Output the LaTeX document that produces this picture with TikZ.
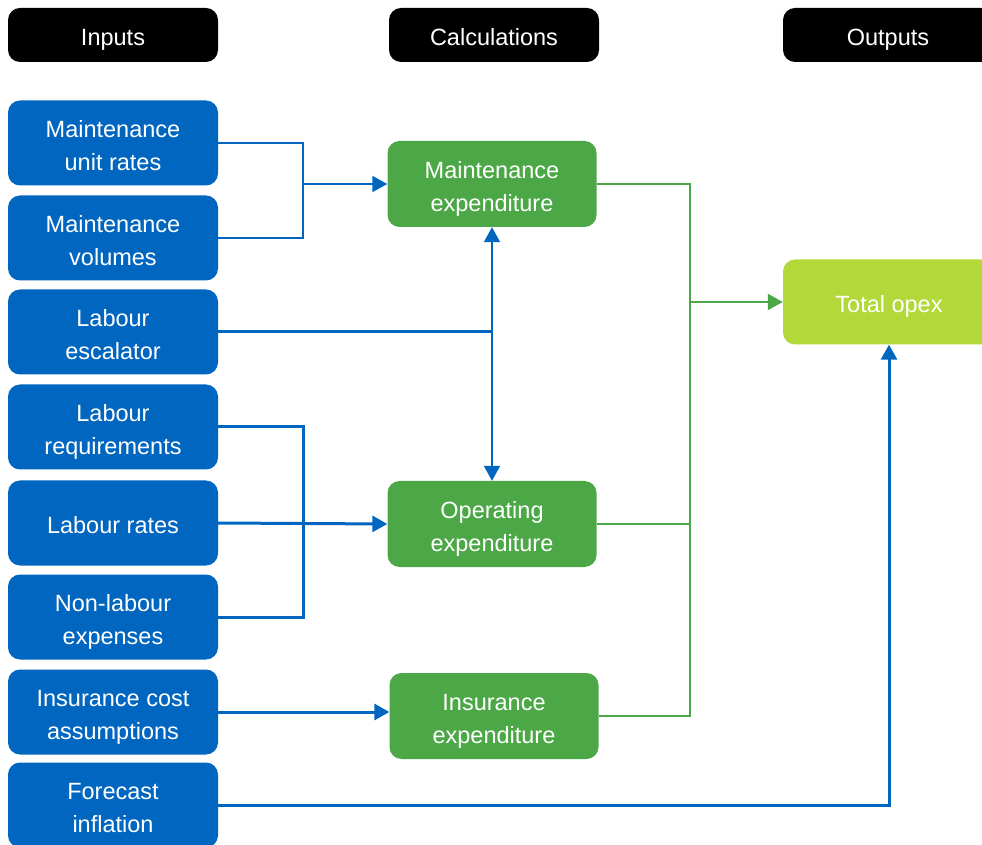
\documentclass[tikz,border=0pt]{standalone}
\usepackage{fontspec}
\setmainfont{Liberation Sans}
\usetikzlibrary{arrows.meta}
\definecolor{inblue}{RGB}{0,102,192}
\definecolor{calcgreen}{RGB}{76,168,70}
\definecolor{outlime}{RGB}{179,216,58}
\newcommand{\lift}{\rule{0pt}{28pt}}
\tikzset{
  box/.style={rounded corners=12pt,text=white,align=center,
    font=\fontsize{23.5}{33}\selectfont,inner sep=0pt,
    execute at end node={\rule[-6pt]{0pt}{6pt}}},
  head/.style={box,fill=black,minimum width=210pt,minimum height=54pt},
  input/.style={box,fill=inblue,minimum width=210pt,minimum height=85pt},
  calc/.style={box,fill=calcgreen,minimum width=209pt,minimum height=86pt},
  output/.style={box,fill=outlime,minimum width=212pt,minimum height=85pt},
  tip/.style={-{Triangle[length=15pt,width=16pt]}},
  blueline/.style={draw=inblue,line width=2pt},
  bluethick/.style={draw=inblue,line width=3pt},
  greenline/.style={draw=calcgreen,line width=2pt}
}
\begin{document}
\begin{tikzpicture}[x=1pt,y=1pt]
  \useasboundingbox (0,0) rectangle (982,844);
  \def\top{844}
  % headers
  \node[head] (hin) at (113,\top-35) {\lift Inputs};
  \node[head] (hcalc) at (494,\top-35) {\lift Calculations};
  \node[head] (hout) at (888,\top-35) {\lift Outputs};
  % inputs
  \node[input] (mur) at (113,\top-143) {\lift Maintenance\\unit rates};
  \node[input] (mv) at (113,\top-238) {\lift Maintenance\\volumes};
  \node[input] (le) at (113,\top-332) {\lift Labour\\escalator};
  \node[input] (lreq) at (113,\top-427) {\lift Labour\\requirements};
  \node[input] (lrat) at (113,\top-523) {\lift Labour rates};
  \node[input] (nle) at (113,\top-617) {\lift Non-labour\\expenses};
  \node[input] (ica) at (113,\top-712) {\lift Insurance cost\\assumptions};
  \node[input] (fi) at (113,\top-805) {\lift Forecast\\inflation};
  % calculations
  \node[calc] (me) at (492,\top-184) {\lift Maintenance\\expenditure};
  \node[calc] (oe) at (492,\top-524) {\lift Operating\\expenditure};
  \node[calc] (ie) at (494,\top-716) {\lift Insurance\\expenditure};
  % output
  \node[output] (to) at (889,\top-302) {\lift Total opex};
  % junctions
  \coordinate (jm) at (303,\top-184);
  \coordinate (jo) at (303,\top-524);
  \coordinate (jt) at (690,\top-302);
  % blue connectors
  \draw[blueline] (mur.east) -| (jm) |- (mv.east);
  \draw[blueline,tip] (jm) -- (me.west);
  \draw[bluethick] (le.east) -- (le.east -| me.south);
  \draw[blueline,{Triangle[length=15pt,width=16pt]}-{Triangle[length=15pt,width=16pt]}] (me.south) -- (oe.north);
  \draw[bluethick] (lreq.east) -| (jo) |- (nle.east);
  \draw[bluethick,tip] (lrat.east) -- (oe.west);
  \draw[bluethick,tip] (ica.east) -- (ica.east -| ie.west);
  \draw[bluethick,tip] (fi.east) -| (to.south);
  % green connectors
  \draw[greenline] (me.east) -| (jt) |- (ie.east);
  \draw[greenline] (oe.east) -- (oe.east -| jt);
  \draw[greenline,tip] (jt) -- (to.west);
\end{tikzpicture}
\end{document}
